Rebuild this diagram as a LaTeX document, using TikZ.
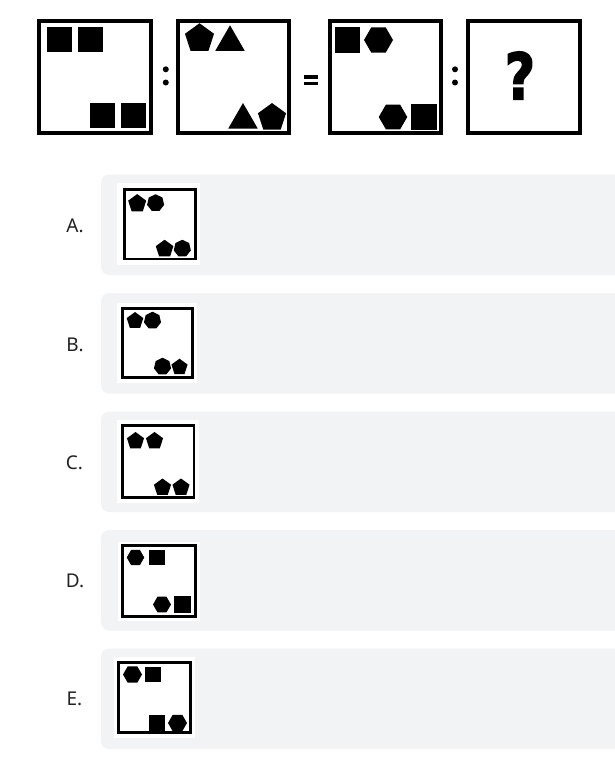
\documentclass[tikz,border=0pt]{standalone}
\usepackage{fontspec}
\setmainfont{Noto Sans}
\newfontfamily\qfont[FakeBold=2.5]{DejaVu Sans}
\usetikzlibrary{shapes.geometric}
\definecolor{optbg}{HTML}{F2F3F5}
\definecolor{labcol}{HTML}{222222}
\tikzset{
  bigframe/.style={draw=black,line width=3.6pt,fill=white},
  smallframe/.style={draw=black,line width=2.6pt,fill=white},
  sq/.style={fill=black,inner sep=0pt,minimum size=#1,shape=rectangle},
  pent/.style={fill=black,inner sep=0pt,regular polygon,regular polygon sides=5,minimum size=#1},
  hexa/.style={fill=black,inner sep=0pt,regular polygon,regular polygon sides=6,minimum size=#1},
  hept/.style={fill=black,inner sep=0pt,regular polygon,regular polygon sides=7,minimum size=#1},
  tri/.style={fill=black,inner sep=0pt,regular polygon,regular polygon sides=3,minimum size=#1},
  optbox/.style={fill=optbg,rounded corners=8pt},
  whitebg/.style={fill=white},
  optlabel/.style={text=labcol,font=\fontsize{19}{22}\selectfont,inner sep=0pt},
  dotc/.style={fill=black,circle,inner sep=0pt,minimum size=6pt},
}
\begin{document}
\begin{tikzpicture}[x=1pt,y=-1pt]
\useasboundingbox (0,0) rectangle (615,760);
\fill[white] (0,0) rectangle (615,760);
% ---- top row frames
\draw[bigframe] (39.2,21.2) rectangle (151.2,133.2);
\draw[bigframe] (177.7,21.2) rectangle (289.2,133.2);
\draw[bigframe] (329.7,21.2) rectangle (441.2,133.2);
\draw[bigframe] (467.7,21.2) rectangle (579.7,133.2);
% box 1
\node[sq=25pt] (b1a) at (59.2,39.2) {};
\node[sq=25pt] (b1b) at (90,39.2) {};
\node[sq=25pt] (b1c) at (102.5,115.5) {};
\node[sq=25pt] (b1d) at (133.2,115.5) {};
% box 2
\node[pent=30.5pt] (b2a) at (199.5,38.5) {};
\node[tri=34pt] (b2b) at (230,42.3) {};
\node[tri=34pt] (b2c) at (243,120) {};
\node[pent=29.5pt] (b2d) at (272,117.8) {};
% box 3
\node[sq=25.5pt] (b3a) at (347.5,40) {};
\node[hexa=29pt] (b3b) at (378.5,40) {};
\node[hexa=28.5pt] (b3c) at (393,117) {};
\node[sq=26pt] (b3d) at (424,117) {};
% question mark
\node[inner sep=0pt,xscale=0.82] (qm) at (520,75.5) {\qfont\bfseries\fontsize{64}{64}\selectfont ?};
% colons and equal
\node[dotc] (c1a) at (165.8,69.3) {};
\node[dotc] (c1b) at (165.8,82.5) {};
\node[dotc] (c2a) at (455,69.3) {};
\node[dotc] (c2b) at (455,82.5) {};
\fill[black] (304,75) rectangle (317.5,78.6);
\fill[black] (304,81.8) rectangle (317.5,85.4);
% ---- options
\fill[optbox] (101,174.5) rectangle (640,275);
\fill[optbox] (101,293) rectangle (640,393.5);
\fill[optbox] (101,411.5) rectangle (640,512);
\fill[optbox] (101,530) rectangle (640,630.5);
\fill[optbox] (101,648.5) rectangle (640,749);
% labels
\node[optlabel] (la) at (75,226) {A.};
\node[optlabel] (lb) at (75,345) {B.};
\node[optlabel] (lc) at (74.5,463) {C.};
\node[optlabel] (ld) at (75,581) {D.};
\node[optlabel] (le) at (74.5,699) {E.};
% A
\fill[whitebg] (117,183) rectangle (200,265);
\draw[smallframe] (124.7,189.5) rectangle (195.3,259);
\node[pent=19pt] (a1) at (137.2,203.6) {};
\node[hept=17.5pt] (a2) at (155.6,203) {};
\node[pent=18.5pt] (a3) at (164.6,249) {};
\node[hept=17.5pt] (a4) at (182.3,248.5) {};
% B
\fill[whitebg] (116.7,303) rectangle (196.7,383);
\draw[smallframe] (122.2,308.2) rectangle (192.2,377.5);
\node[pent=17.5pt] (bb1) at (135,320.8) {};
\node[hept=17.5pt] (bb2) at (152.5,320.5) {};
\node[hept=17.5pt] (bb3) at (162.5,366.5) {};
\node[pent=17pt] (bb4) at (179.5,367.2) {};
% C
\fill[whitebg] (116.7,419.5) rectangle (198.5,503);
\draw[smallframe] (122.2,425.5) rectangle (193.8,497.5);
\node[pent=18pt] (cc1) at (135.5,441) {};
\node[pent=18pt] (cc2) at (154.5,441) {};
\node[pent=18pt] (cc3) at (162.5,487.5) {};
\node[pent=18pt] (cc4) at (181,487.5) {};
% D
\fill[whitebg] (118,542) rectangle (200,621);
\draw[smallframe] (122.2,545.5) rectangle (195.5,616.5);
\node[hexa=17.5pt] (dd1) at (135.5,557.5) {};
\node[sq=15.5pt] (dd2) at (157,557.5) {};
\node[hexa=18pt] (dd3) at (162,604.5) {};
\node[sq=16.5pt] (dd4) at (182.5,604.5) {};
% E
\fill[whitebg] (114,657) rectangle (195,738);
\draw[smallframe] (118.5,662.5) rectangle (190.5,732.5);
\node[hexa=19pt] (ee1) at (132.5,674.5) {};
\node[sq=15.5pt] (ee2) at (153,674.5) {};
\node[sq=16pt] (ee3) at (157,723) {};
\node[hexa=19pt] (ee4) at (177.5,723) {};
\end{tikzpicture}
\end{document}
